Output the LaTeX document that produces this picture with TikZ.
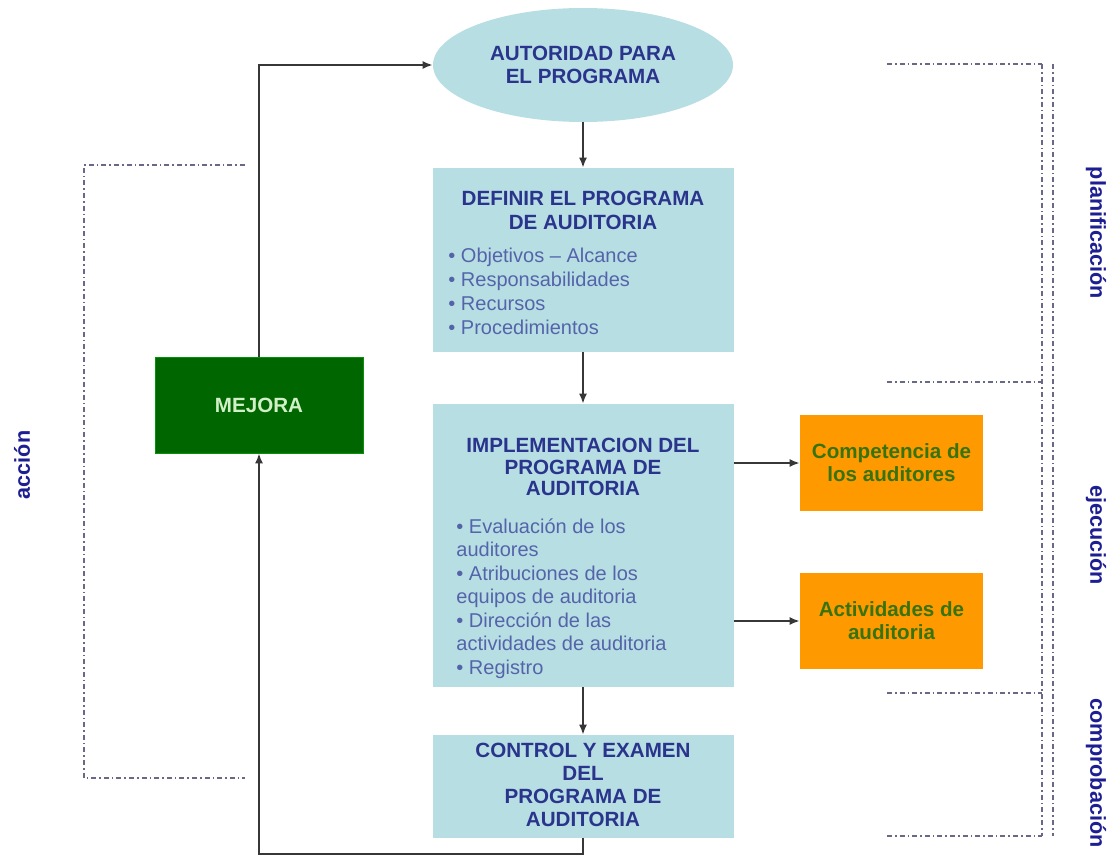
\documentclass[tikz,border=0pt]{standalone}
\usepackage{fontspec}
\setmainfont{Liberation Sans}
\usepackage{tikz}
\usetikzlibrary{positioning, arrows.meta, shapes.geometric}
\usepackage{xcolor}
\definecolor{celeste}{RGB}{183,222,227}
\definecolor{azulT}{RGB}{42,52,140}
\definecolor{azulL}{RGB}{85,100,170}
\definecolor{azulE}{RGB}{28,30,145}
\definecolor{naranja}{RGB}{255,153,0}
\definecolor{verdeN}{RGB}{55,115,15}
\definecolor{verdeM}{RGB}{0,102,0}
\definecolor{verdeC}{RGB}{210,240,200}
\definecolor{grisF}{RGB}{55,55,55}
\definecolor{grisR}{RGB}{105,105,135}

\begin{document}
\begin{tikzpicture}[x=0.5pt, y=-0.5pt,
    caja/.style={fill=celeste, minimum width=150.5pt, inner sep=0pt},
    titulo/.style={font=\fontsize{10.3}{12}\selectfont\bfseries, text=azulT,
                   align=center, inner sep=0pt, anchor=north},
    lista/.style={font=\fontsize{10}{12}\selectfont, text=azulL,
                  align=left, inner sep=0pt, anchor=north west},
    apoyo/.style={fill=naranja, minimum width=91.5pt, minimum height=48pt,
                  font=\fontsize{10.3}{11.5}\selectfont\bfseries, text=verdeN, align=center},
    flecha/.style={draw=grisF, line width=0.8pt, -{Latex[length=5pt,width=4pt]}},
    rayado/.style={draw=grisR, line width=0.6pt,
                   dash pattern=on 2.5pt off 1.5pt on 0.8pt off 1.5pt},
    etapa/.style={font=\fontsize{10.8}{12}\selectfont\bfseries, text=azulE}]

    \useasboundingbox (0,0) rectangle (1120,856);

    \node[ellipse, fill=celeste, minimum width=150pt, minimum height=57pt, inner sep=0pt,
          font=\fontsize{10.3}{11.5}\selectfont\bfseries, text=azulT, align=center]
          (aut) at (583,65) {AUTORIDAD PARA\\EL PROGRAMA};

    \node[caja, minimum height=92pt] (def) at (583,260) {};
    \node[titulo] (defT) at (583,191) {DEFINIR EL PROGRAMA\\DE AUDITORIA};
    \node[lista] (defL) at (448,248) {• Objetivos -- Alcance\\• Responsabilidades\\• Recursos\\• Procedimientos};

    \node[caja, minimum height=141.5pt] (impl) at (583,545.5) {};
    \node[titulo, font=\fontsize{10.3}{10.8}\selectfont\bfseries] (implT) at (583,438)
          {IMPLEMENTACION DEL\\PROGRAMA DE\\AUDITORIA};
    \node[lista, font=\fontsize{10}{11.75}\selectfont] (implL) at (456,518)
          {• Evaluación de los\\auditores\\• Atribuciones de los\\equipos de auditoria\\• Dirección de las\\actividades de auditoria\\• Registro};

    \node[caja, minimum height=51.5pt] (ctrl) at (583,786.5) {};
    \node[titulo, font=\fontsize{10.3}{11.5}\selectfont\bfseries] (ctrlT) at (583,743)
          {CONTROL Y EXAMEN\\DEL\\PROGRAMA DE\\AUDITORIA};

    \node[fill=verdeM, draw=verdeM!70!green, minimum width=104pt, minimum height=48pt,
          font=\fontsize{10.3}{12}\selectfont\bfseries, text=verdeC] (mej) at (259,405) {MEJORA};

    \node[apoyo] (comp) at (891.5,463) {Competencia de\\los auditores};
    \node[apoyo] (act) at (891.5,621) {Actividades de\\auditoria};

    \coordinate (abajo) at (583,854);

    \draw[flecha] (aut) -- (def);
    \draw[flecha] (def) -- (impl);
    \draw[flecha] (impl) -- (ctrl);
    \draw[flecha] (comp.west -| impl.east) -- (comp.west);
    \draw[flecha] (act.west -| impl.east) -- (act.west);
    \draw[flecha] (mej.north) |- (aut.west);
    \draw[flecha] (ctrl.south) -- (abajo) -| (mej.south);

    \draw[rayado] (245,165) -- (84,165) -- (84,778) -- (245,778);
    \foreach \y in {64,382,693,836}
      \draw[rayado] (887,\y) -- (1042,\y);
    \draw[rayado] (1042,64) -- (1042,836);
    \draw[rayado] (1053,64) -- (1053,836);

    \foreach \txt/\y/\nom in {planificación/233/plan, ejecución/535/ejec, comprobación/773/comp}
      \node[etapa, rotate=-90] (\nom E) at (1096,\y) {\txt};
    \node[etapa, rotate=90] (accE) at (22,465) {acción};
\end{tikzpicture}
\end{document}
